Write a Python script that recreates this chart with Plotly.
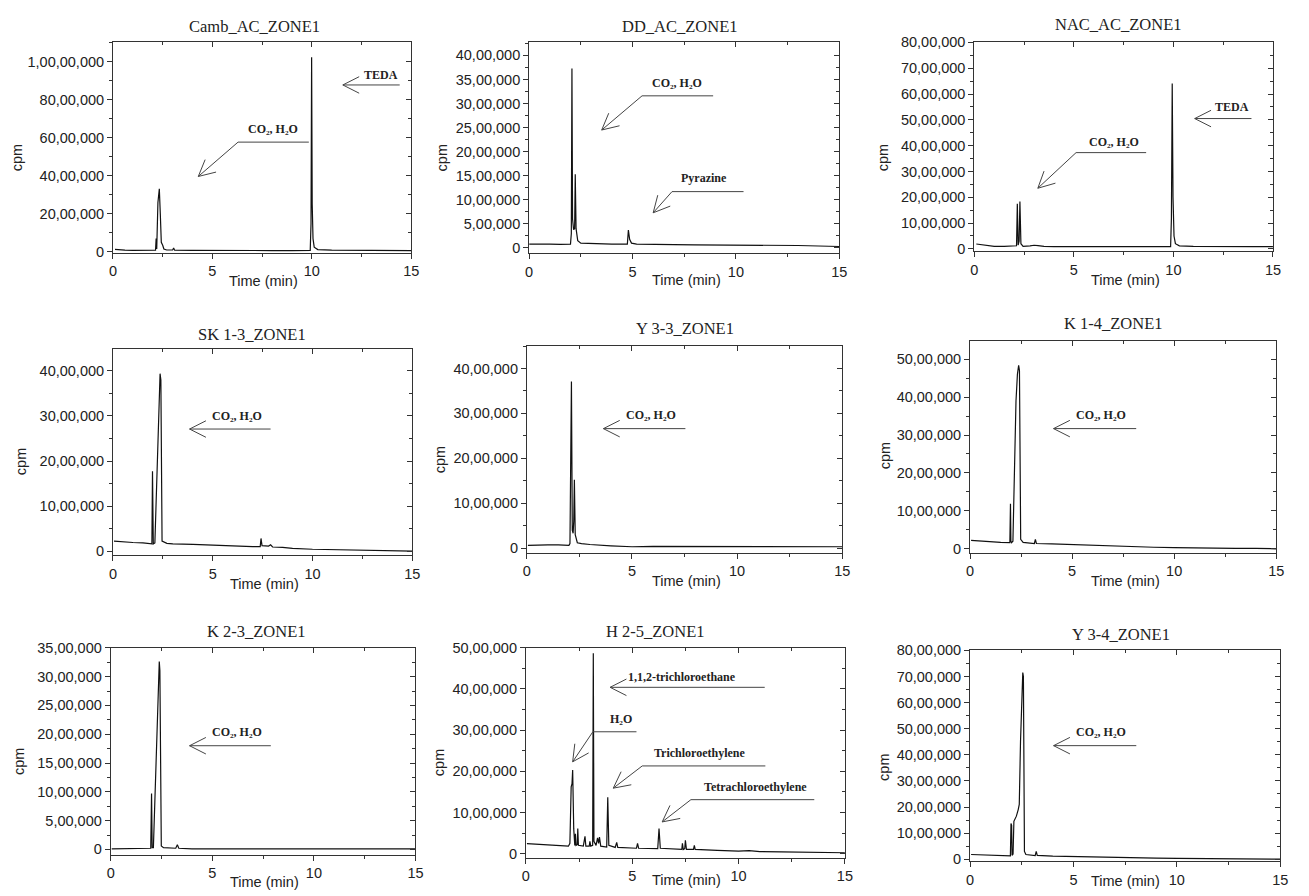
import math
import plotly.graph_objects as go

W, H = 1309, 896

# ---------------- data ----------------
TITLES = ["Camb_AC_ZONE1", "DD_AC_ZONE1", "NAC_AC_ZONE1",
          "SK 1-3_ZONE1", "Y 3-3_ZONE1", "K 1-4_ZONE1",
          "K 2-3_ZONE1", "H 2-5_ZONE1", "Y 3-4_ZONE1"]

X_TITLE = "Time (min)"
Y_TITLE = "cpm"
X_TICKS = [0, 5, 10, 15]
X_TICKTEXT = ["0", "5", "10", "15"]

camb_t = [0.1, 0.3, 0.6, 1.0, 1.5, 2.0, 2.14, 2.17, 2.2, 2.26, 2.33, 2.38, 2.43, 2.5, 2.56, 2.7,
          3.0, 3.05, 3.1, 4.0, 5.0, 6.0, 7.0, 8.0, 9.0, 9.92, 9.96, 9.99, 10.02, 10.06, 10.12, 10.3,
          11.0, 12.0, 13.0, 14.0, 15.0]
camb_cpm = [130000, 110000, 90000, 80000, 80000, 80000, 90000, 700000, 150000, 2600000, 3320000, 2000000,
            500000, 350000, 150000, 100000, 100000, 200000, 90000, 80000, 70000, 70000, 80000, 70000,
            70000, 80000, 1500000, 10250000, 2500000, 700000, 250000, 120000, 90000, 80000, 70000,
            70000, 70000]

dd_t = [0.0, 0.5, 1.0, 1.5, 2.0, 2.04, 2.07, 2.1, 2.15, 2.2, 2.23, 2.27, 2.35, 2.5, 3.0, 4.0, 4.75,
        4.8, 4.86, 4.95, 5.2, 6.0, 7.0, 8.0, 9.0, 10.0, 11.0, 12.0, 13.0, 14.0, 15.0]
dd_cpm = [80000, 85000, 80000, 75000, 80000, 300000, 3730000, 600000, 380000, 400000, 1530000, 400000,
          150000, 100000, 90000, 80000, 80000, 370000, 180000, 100000, 80000, 70000, 70000, 65000,
          65000, 60000, 60000, 55000, 50000, 40000, 30000]

nac_t = [0.1, 0.3, 0.6, 1.0, 1.5, 2.0, 2.12, 2.16, 2.2, 2.25, 2.29, 2.34, 2.45, 2.8, 3.0, 3.2, 3.5,
         4.0, 5.0, 6.0, 7.0, 8.0, 9.0, 9.86, 9.9, 9.94, 9.98, 10.03, 10.1, 10.3, 11.0, 12.0, 13.0,
         14.0, 15.0]
nac_cpm = [190000, 170000, 120000, 100000, 100000, 100000, 120000, 1750000, 150000, 300000, 1840000,
           200000, 100000, 120000, 140000, 130000, 100000, 90000, 90000, 90000, 90000, 90000, 90000,
           90000, 1200000, 6410000, 2000000, 500000, 200000, 120000, 100000, 90000, 90000, 90000, 90000]

sk_t = [0.05, 0.3, 0.7, 1.0, 1.5, 1.95, 1.98, 2.02, 2.1, 2.36, 2.4, 2.46, 2.7, 3.0, 4.0, 5.0, 6.0,
        7.0, 7.38, 7.42, 7.47, 7.8, 7.9, 8.0, 8.5, 9.0, 10.0, 11.0, 12.0, 13.0, 14.0, 15.0]
sk_cpm = [220000, 210000, 200000, 190000, 180000, 160000, 1770000, 160000, 180000, 3940000, 3800000,
          220000, 170000, 160000, 150000, 130000, 120000, 100000, 100000, 280000, 120000, 110000,
          140000, 90000, 80000, 60000, 40000, 30000, 20000, 10000, 10000, 0]

y33_t = [0.05, 0.5, 1.0, 1.5, 2.0, 2.05, 2.09, 2.12, 2.16, 2.2, 2.23, 2.26, 2.3, 2.4, 2.6, 3.0,
         4.0, 5.0, 6.0, 7.0, 8.0, 9.0, 10.0, 11.0, 12.0, 13.0, 14.0, 15.0]
y33_cpm = [60000, 70000, 70000, 70000, 60000, 100000, 1500000, 3710000, 400000, 330000, 600000,
           1520000, 300000, 120000, 100000, 80000, 50000, 30000, 40000, 40000, 40000, 40000,
           40000, 40000, 40000, 40000, 30000, 30000]

k14_t = [0.05, 0.5, 1.0, 1.5, 1.95, 1.98, 2.0, 2.03, 2.1, 2.18, 2.25, 2.32, 2.38, 2.42, 2.48, 2.6,
         3.0, 3.15, 3.2, 3.25, 4.0, 5.0, 6.0, 7.0, 8.0, 9.0, 10.0, 11.0, 12.0, 13.0, 14.0, 15.0]
k14_cpm = [220000, 200000, 190000, 170000, 160000, 1190000, 200000, 160000, 200000, 2000000,
           3900000, 4600000, 4840000, 4700000, 250000, 170000, 150000, 140000, 250000, 140000,
           130000, 110000, 90000, 70000, 50000, 40000, 30000, 20000, 20000, 10000, 10000, 0]

k23_t = [0.05, 1.0, 1.97, 2.01, 2.04, 2.1, 2.25, 2.39, 2.42, 2.49, 2.6, 3.2, 3.28, 3.35, 4.0, 5.0,
         6.0, 7.0, 8.0, 9.0, 10.0, 11.0, 12.0, 13.0, 14.0, 15.0]
k23_cpm = [10000, 10000, 20000, 970000, 30000, 30000, 1700000, 3260000, 3100000, 60000, 30000,
           20000, 80000, 20000, 10000, 10000, 10000, 10000, 10000, 10000, 10000, 10000, 10000,
           10000, 10000, 10000]

h25_t = [0.05, 0.5, 1.0, 1.5, 2.0, 2.07, 2.13, 2.17, 2.2, 2.25, 2.3, 2.33, 2.36, 2.42, 2.44, 2.47,
         2.7, 2.78, 2.82, 2.98, 3.01, 3.05, 3.14, 3.17, 3.2, 3.3, 3.37, 3.42, 3.46, 3.52, 3.8, 3.85,
         3.9, 4.2, 4.27, 4.32, 5.2, 5.25, 5.3, 6.2, 6.26, 6.32, 7.0, 7.33, 7.36, 7.4, 7.47, 7.5,
         7.55, 7.88, 7.92, 7.96, 9.0, 10.0, 10.5, 11.0, 12.0, 13.0, 14.0, 15.0]
h25_cpm = [240000, 230000, 210000, 200000, 180000, 250000, 1620000, 1700000, 2030000, 600000,
           200000, 480000, 200000, 220000, 610000, 200000, 180000, 420000, 180000, 180000,
           300000, 180000, 200000, 4870000, 300000, 200000, 380000, 250000, 400000, 180000,
           160000, 1370000, 200000, 150000, 270000, 150000, 130000, 250000, 130000, 120000,
           610000, 130000, 100000, 100000, 250000, 100000, 120000, 320000, 100000, 100000,
           200000, 100000, 80000, 60000, 70000, 50000, 40000, 30000, 20000, 20000]

y34_t = [0.05, 0.5, 1.0, 1.5, 1.95, 1.98, 2.01, 2.03, 2.08, 2.12, 2.15, 2.24, 2.33, 2.38, 2.44,
         2.5, 2.55, 2.58, 2.63, 2.7, 3.0, 3.15, 3.2, 3.25, 4.0, 5.0, 6.0, 7.0, 8.0, 9.0, 10.0,
         11.0, 12.0, 13.0, 14.0, 15.0]
y34_cpm = [180000, 170000, 160000, 150000, 130000, 1370000, 1300000, 150000, 200000, 1450000,
           1500000, 1650000, 1900000, 2100000, 4500000, 6400000, 7150000, 7000000, 300000, 180000,
           150000, 140000, 300000, 150000, 120000, 100000, 80000, 60000, 50000, 40000, 30000,
           20000, 20000, 10000, 10000, 0]

SERIES_T = [camb_t, dd_t, nac_t, sk_t, y33_t, k14_t, k23_t, h25_t, y34_t]
SERIES_CPM = [camb_cpm, dd_cpm, nac_cpm, sk_cpm, y33_cpm, k14_cpm, k23_cpm, h25_cpm, y34_cpm]

# y tick values and labels (Indian digit grouping, as in the reference)
yt_camb = [0, 2000000, 4000000, 6000000, 8000000, 10000000]
yl_camb = ["0", "20,00,000", "40,00,000", "60,00,000", "80,00,000", "1,00,00,000"]
yt_dd = [0, 500000, 1000000, 1500000, 2000000, 2500000, 3000000, 3500000, 4000000]
yl_dd = ["0", "5,00,000", "10,00,000", "15,00,000", "20,00,000", "25,00,000", "30,00,000",
         "35,00,000", "40,00,000"]
yt_80 = [0, 1000000, 2000000, 3000000, 4000000, 5000000, 6000000, 7000000, 8000000]
yl_80 = ["0", "10,00,000", "20,00,000", "30,00,000", "40,00,000", "50,00,000", "60,00,000",
         "70,00,000", "80,00,000"]
yt_40 = [0, 1000000, 2000000, 3000000, 4000000]
yl_40 = ["0", "10,00,000", "20,00,000", "30,00,000", "40,00,000"]
yt_50 = [0, 1000000, 2000000, 3000000, 4000000, 5000000]
yl_50 = ["0", "10,00,000", "20,00,000", "30,00,000", "40,00,000", "50,00,000"]
yt_35 = [0, 500000, 1000000, 1500000, 2000000, 2500000, 3000000, 3500000]
yl_35 = ["0", "5,00,000", "10,00,000", "15,00,000", "20,00,000", "25,00,000", "30,00,000",
         "35,00,000"]
Y_TICKVALS = [yt_camb, yt_dd, yt_80, yt_40, yt_40, yt_50, yt_35, yt_50, yt_80]
Y_TICKTEXT = [yl_camb, yl_dd, yl_80, yl_40, yl_40, yl_50, yl_35, yl_50, yl_80]
Y_MINOR = [1000000, 250000, 500000, 500000, 500000, 500000, 250000, 500000, 500000]

# labelled arrows: text, text position, arrow path (tail ... tip), all in data units
CO2 = "CO₂, H₂O"
LABELS = [
    [(CO2, 8.07, 6470000, [(9.85, 5780000), (6.29, 5780000), (4.29, 3970000)]),
     ("TEDA", 13.47, 9310000, [(14.42, 8790000), (11.56, 8790000)])],
    [(CO2, 7.15, 3420000, [(8.90, 3160000), (5.46, 3160000), (3.51, 2450000)]),
     ("Pyrazine", 8.46, 1460000, [(10.37, 1170000), (6.91, 1170000), (6.0, 730000)])],
    [(CO2, 7.0, 4150000, [(8.63, 3730000), (5.11, 3730000), (3.19, 2350000)]),
     ("TEDA", 12.94, 5490000, [(13.92, 5050000), (11.07, 5050000)])],
    [(CO2, 6.20, 3010000, [(7.90, 2710000), (3.84, 2710000)])],
    [(CO2, 5.89, 2960000, [(7.54, 2660000), (3.64, 2660000)])],
    [(CO2, 6.42, 3520000, [(8.14, 3170000), (4.09, 3170000)])],
    [(CO2, 6.21, 2030000, [(7.88, 1800000), (3.88, 1800000)])],
    [("1,1,2-trichloroethane", 7.33, 4300000, [(11.23, 4040000), (3.96, 4040000)]),
     ("H₂O", 4.47, 3280000, [(5.20, 2960000), (3.15, 2960000), (2.20, 2230000)]),
     ("Trichloroethylene", 8.18, 2450000, [(11.26, 2130000), (5.47, 2130000), (4.11, 1590000)]),
     ("Tetrachloroethylene", 10.79, 1620000, [(13.56, 1310000), (7.76, 1310000), (6.41, 770000)])],
    [(CO2, 6.34, 4860000, [(8.04, 4350000), (4.04, 4350000)])],
]

# ---------------- layout geometry (pixels) ----------------
BOX = [(110, 411, 35, 249), (530, 843, 35, 249.3), (979.3, 1280.7, 35, 247.3),
       (110, 412, 346.7, 556.7), (527.7, 846, 343.3, 554), (975, 1284, 338.3, 554),
       (107.7, 415.3, 650.7, 861), (526.7, 848.7, 650.7, 864), (975, 1288, 653.3, 867.7)]
YRANGE = [(-50000, 11030000), (-108000, 4270000), (-88000, 8000000),
          (-96000, 4490000), (-103000, 4510000), (-104000, 5490000),
          (-90000, 3500000), (-96000, 5000000), (-75000, 8000000)]
TITLE_POS = [(253, 19), (682, 19), (1125, 17), (250, 332), (687, 326), (1120, 321),
             (255, 634), (658, 634), (1127, 637)]
XLAB_POS = [(262, 278), (689, 277), (1132, 277), (263, 586), (689, 583), (1132, 583),
            (263, 889), (689, 887), (1132, 888)]
YLAB_POS = [(14, 152), (443, 152), (888, 152), (17, 461), (440, 459), (890, 455),
            (15, 766), (439, 767), (888, 772)]

AX_COLOR = "#333333"
TXT_COLOR = "#222222"
SANS = "Liberation Sans, Arial, sans-serif"
SERIF = "Liberation Serif, Times New Roman, DejaVu Serif, serif"


def d2p(i, x, y):
    x0, x1, yt, yb = BOX[i]
    r0, r1 = YRANGE[i]
    return x0 + x / 15.0 * (x1 - x0), yb - (y - r0) / (r1 - r0) * (yb - yt)


def p2d(i, px, py):
    x0, x1, yt, yb = BOX[i]
    r0, r1 = YRANGE[i]
    return (px - x0) / (x1 - x0) * 15.0, r0 + (yb - py) / (yb - yt) * (r1 - r0)


fig = go.Figure()
shapes = []
annotations = []

for i in range(9):
    n = i + 1
    o = i + 10
    xs = "" if n == 1 else str(n)
    xn, yn = "x" + xs, "y" + xs
    xo, yo = "x" + str(o), "y" + str(o)
    x0, x1, yt, yb = BOX[i]
    xdom = [x0 / W, x1 / W]
    ydom = [1 - yb / H, 1 - yt / H]

    assert len(SERIES_T[i]) == len(SERIES_CPM[i])
    fig.add_trace(go.Scatter(x=SERIES_T[i], y=SERIES_CPM[i], mode="lines",
                             line=dict(color="#111111", width=1.2),
                             xaxis=xn, yaxis=yn, showlegend=False, hoverinfo="skip"))
    fig.add_trace(go.Scatter(x=[None], y=[None], mode="lines", xaxis=xo, yaxis=yo,
                             showlegend=False, hoverinfo="skip"))

    common = dict(showgrid=False, zeroline=False, tickcolor=AX_COLOR, tickwidth=1)
    fig.layout["xaxis" + xs] = dict(
        domain=xdom, anchor=yn, range=[0, 15], tickmode="array", tickvals=X_TICKS,
        ticktext=X_TICKTEXT, ticks="outside", ticklen=5, showline=True, linecolor=AX_COLOR,
        linewidth=1, mirror=True, tickfont=dict(family=SANS, size=14.5, color=TXT_COLOR),
        minor=dict(ticks="outside", ticklen=3, tick0=0, dtick=2.5, tickcolor=AX_COLOR),
        **common)
    fig.layout["yaxis" + xs] = dict(
        domain=ydom, anchor=xn, range=list(YRANGE[i]), tickmode="array",
        tickvals=Y_TICKVALS[i], ticktext=Y_TICKTEXT[i], ticks="outside", ticklen=5,
        showline=True, linecolor=AX_COLOR, linewidth=1, mirror=True,
        tickfont=dict(family=SANS, size=14.5, color=TXT_COLOR),
        minor=dict(ticks="outside", ticklen=3, tick0=0, dtick=Y_MINOR[i], tickcolor=AX_COLOR),
        **common)
    # top / right axes with inward ticks
    fig.layout["xaxis" + str(o)] = dict(
        overlaying=xn, anchor=yo, side="top", range=[0, 15], tickmode="array",
        tickvals=X_TICKS, ticks="inside", ticklen=5, showticklabels=False, showline=False,
        minor=dict(ticks="inside", ticklen=3, tick0=0, dtick=2.5, tickcolor=AX_COLOR),
        **common)
    fig.layout["yaxis" + str(o)] = dict(
        overlaying=yn, anchor=xo, side="right", range=list(YRANGE[i]), tickmode="array",
        tickvals=Y_TICKVALS[i], ticks="inside", ticklen=5, showticklabels=False, showline=False,
        minor=dict(ticks="inside", ticklen=3, tick0=0, dtick=Y_MINOR[i], tickcolor=AX_COLOR),
        **common)

    # titles and axis labels
    tx, ty = TITLE_POS[i]
    annotations.append(dict(text=TITLES[i], x=tx / W, y=1 - ty / H, xref="paper", yref="paper",
                            showarrow=False, xanchor="center", yanchor="middle",
                            font=dict(family=SERIF, size=16.5, color=TXT_COLOR)))
    lx, ly = XLAB_POS[i]
    annotations.append(dict(text=X_TITLE, x=lx / W, y=1 - ly / H, xref="paper", yref="paper",
                            showarrow=False, xanchor="center", yanchor="middle",
                            font=dict(family=SANS, size=14.5, color=TXT_COLOR)))
    cx, cy = YLAB_POS[i]
    annotations.append(dict(text=Y_TITLE, x=cx / W, y=1 - cy / H, xref="paper", yref="paper",
                            showarrow=False, xanchor="center", yanchor="middle", textangle=-90,
                            font=dict(family=SANS, size=14.5, color=TXT_COLOR)))

    # labelled arrows
    for text, tx_, ty_, path in LABELS[i]:
        annotations.append(dict(text="<b>" + text + "</b>", x=tx_, y=ty_, xref=xn, yref=yn,
                                showarrow=False, xanchor="center", yanchor="middle",
                                font=dict(family=SERIF, size=12, color=TXT_COLOR)))
        for (ax_, ay_), (bx_, by_) in zip(path[:-1], path[1:]):
            shapes.append(dict(type="line", xref=xn, yref=yn, x0=ax_, y0=ay_, x1=bx_, y1=by_,
                               line=dict(color="#444444", width=1)))
        tipx, tipy = d2p(i, *path[-1])
        prvx, prvy = d2p(i, *path[-2])
        dx, dy = prvx - tipx, prvy - tipy
        L = math.hypot(dx, dy)
        dx, dy = dx / L, dy / L
        for ang in (math.radians(27), math.radians(-27)):
            rx = dx * math.cos(ang) - dy * math.sin(ang)
            ry = dx * math.sin(ang) + dy * math.cos(ang)
            ex, ey = p2d(i, tipx + 18.5 * rx, tipy + 18.5 * ry)
            shapes.append(dict(type="line", xref=xn, yref=yn, x0=path[-1][0], y0=path[-1][1],
                               x1=ex, y1=ey, line=dict(color="#444444", width=1)))

fig.update_layout(width=W, height=H, margin=dict(l=0, r=0, t=0, b=0),
                  paper_bgcolor="white", plot_bgcolor="white",
                  shapes=shapes, annotations=annotations, showlegend=False)

fig.write_html("out.html", config={"displayModeBar": False},
               post_script="document.body.style.margin='0';document.body.style.overflow='hidden';")
